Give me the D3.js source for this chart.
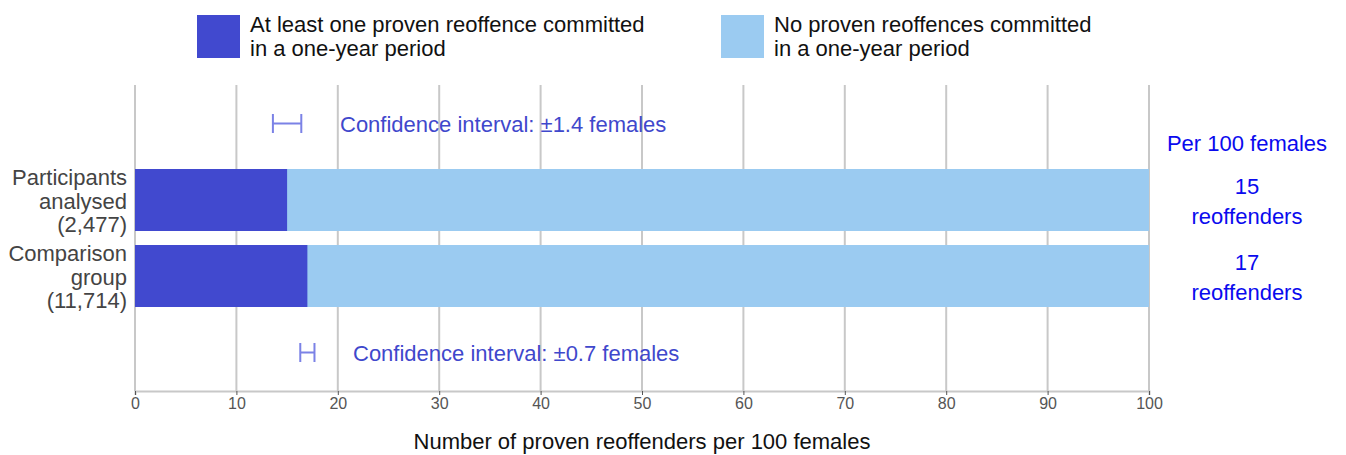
<!DOCTYPE html>
<html>
<head>
<meta charset="utf-8">
<script src="https://cdn.jsdelivr.net/npm/d3@7"></script>
<style>
  body { margin: 0; background: #fff; }
  text { font-family: "Liberation Sans", Arial, sans-serif; }
</style>
</head>
<body>
<svg id="chart" width="1346" height="455"></svg>
<script>
var groups = ['Participants analysed (2,477)', 'Comparison group (11,714)'];
var groupLines = [['Participants', 'analysed', '(2,477)'], ['Comparison', 'group', '(11,714)']];
var reoffenders = [15, 17];
var ciHalfWidth = [1.4, 0.7];
var ciLabels = ['Confidence interval: \u00b11.4 females', 'Confidence interval: \u00b10.7 females'];
var rightLabels = [['15', 'reoffenders'], ['17', 'reoffenders']];
var xTicks = [0, 10, 20, 30, 40, 50, 60, 70, 80, 90, 100];
var legendItems = [
  {lines: ['At least one proven reoffence committed', 'in a one-year period'], color: '#4149cf'},
  {lines: ['No proven reoffences committed', 'in a one-year period'], color: '#9bcbf1'}
];

var svg = d3.select('#chart');

var x = d3.scaleLinear().domain([0, 100]).range([135, 1149]);
var y = d3.scaleBand().domain(groups).range([162, 314]).paddingInner(14 / 76).paddingOuter(7 / 76);

// legend
var legend = svg.selectAll('.legend').data(legendItems).enter().append('g')
  .attr('transform', function(d, i) { return 'translate(' + (i === 0 ? 197 : 721) + ',15)'; });
legend.append('rect').attr('width', 43).attr('height', 43).attr('fill', function(d) { return d.color; });
legend.each(function(d) {
  var t = d3.select(this).append('text').attr('x', 53).attr('y', 17).attr('font-size', 22).attr('fill', '#111');
  d.lines.forEach(function(l, j) {
    t.append('tspan').attr('x', 53).attr('dy', j === 0 ? 0 : 24).text(l);
  });
});

// grid
svg.append('g').selectAll('line').data(xTicks).enter().append('line')
  .attr('x1', x).attr('x2', x).attr('y1', 85).attr('y2', 391)
  .attr('stroke', '#c8c8c8').attr('stroke-width', 2);

// axis
var axis = svg.append('g').attr('transform', 'translate(0,391)')
  .call(d3.axisBottom(x).tickValues(xTicks).tickSize(4).tickPadding(3));
axis.select('.domain').attr('stroke', '#c8c8c8').attr('stroke-width', 2);
axis.selectAll('.tick line').attr('stroke', '#555');
axis.selectAll('.tick text').attr('font-size', 16).attr('fill', '#555').attr('font-family', '"Liberation Sans", Arial, sans-serif');

// bars
var rows = svg.append('g').selectAll('g').data(groups).enter().append('g');
rows.append('rect').attr('x', x(0)).attr('y', function(d) { return y(d); })
  .attr('width', x(100) - x(0)).attr('height', y.bandwidth()).attr('fill', '#9bcbf1');
rows.append('rect').attr('x', x(0)).attr('y', function(d) { return y(d); })
  .attr('width', function(d, i) { return x(reoffenders[i]) - x(0); })
  .attr('height', y.bandwidth()).attr('fill', '#4149cf');

// category labels
rows.append('text').attr('text-anchor', 'end').attr('font-size', 22).attr('fill', '#444')
  .each(function(d, i) {
    var t = d3.select(this);
    var cy = y(d) + y.bandwidth() / 2;
    groupLines[i].forEach(function(l, j) {
      t.append('tspan').attr('x', 127).attr('y', cy - 15 + j * 23.5).text(l);
    });
  });

// confidence intervals
var ciY = [123.5, 352.5];
var ciTextX = [340, 353];
var ci = svg.append('g').selectAll('g').data(reoffenders).enter().append('g');
ci.append('path')
  .attr('d', function(d, i) {
    var a = x(d - ciHalfWidth[i]), b = x(d + ciHalfWidth[i]), cy = ciY[i];
    return 'M' + a + ',' + (cy - 9.5) + 'V' + (cy + 9.5) + 'M' + a + ',' + cy + 'H' + b + 'M' + b + ',' + (cy - 9.5) + 'V' + (cy + 9.5);
  })
  .attr('stroke', '#7b82e6').attr('stroke-width', 2).attr('fill', 'none');
ci.append('text').attr('x', function(d, i) { return ciTextX[i]; }).attr('y', function(d, i) { return ciY[i] + 8; })
  .attr('font-size', 22).attr('fill', '#3f48cc').text(function(d, i) { return ciLabels[i]; });

// right labels
svg.append('text').attr('x', 1247).attr('y', 151).attr('text-anchor', 'middle')
  .attr('font-size', 22).attr('fill', '#0a0aee').text('Per 100 females');
svg.append('g').selectAll('text').data(groups).enter().append('text')
  .attr('text-anchor', 'middle').attr('font-size', 22).attr('fill', '#0a0aee')
  .each(function(d, i) {
    var t = d3.select(this);
    var cy = y(d) + y.bandwidth() / 2;
    rightLabels[i].forEach(function(l, j) {
      t.append('tspan').attr('x', 1247).attr('y', cy - 6 + j * 30).text(l);
    });
  });

// axis title
svg.append('text').attr('x', 642).attr('y', 449).attr('text-anchor', 'middle')
  .attr('font-size', 22).attr('fill', '#111').text('Number of proven reoffenders per 100 females');
</script>
</body>
</html>
